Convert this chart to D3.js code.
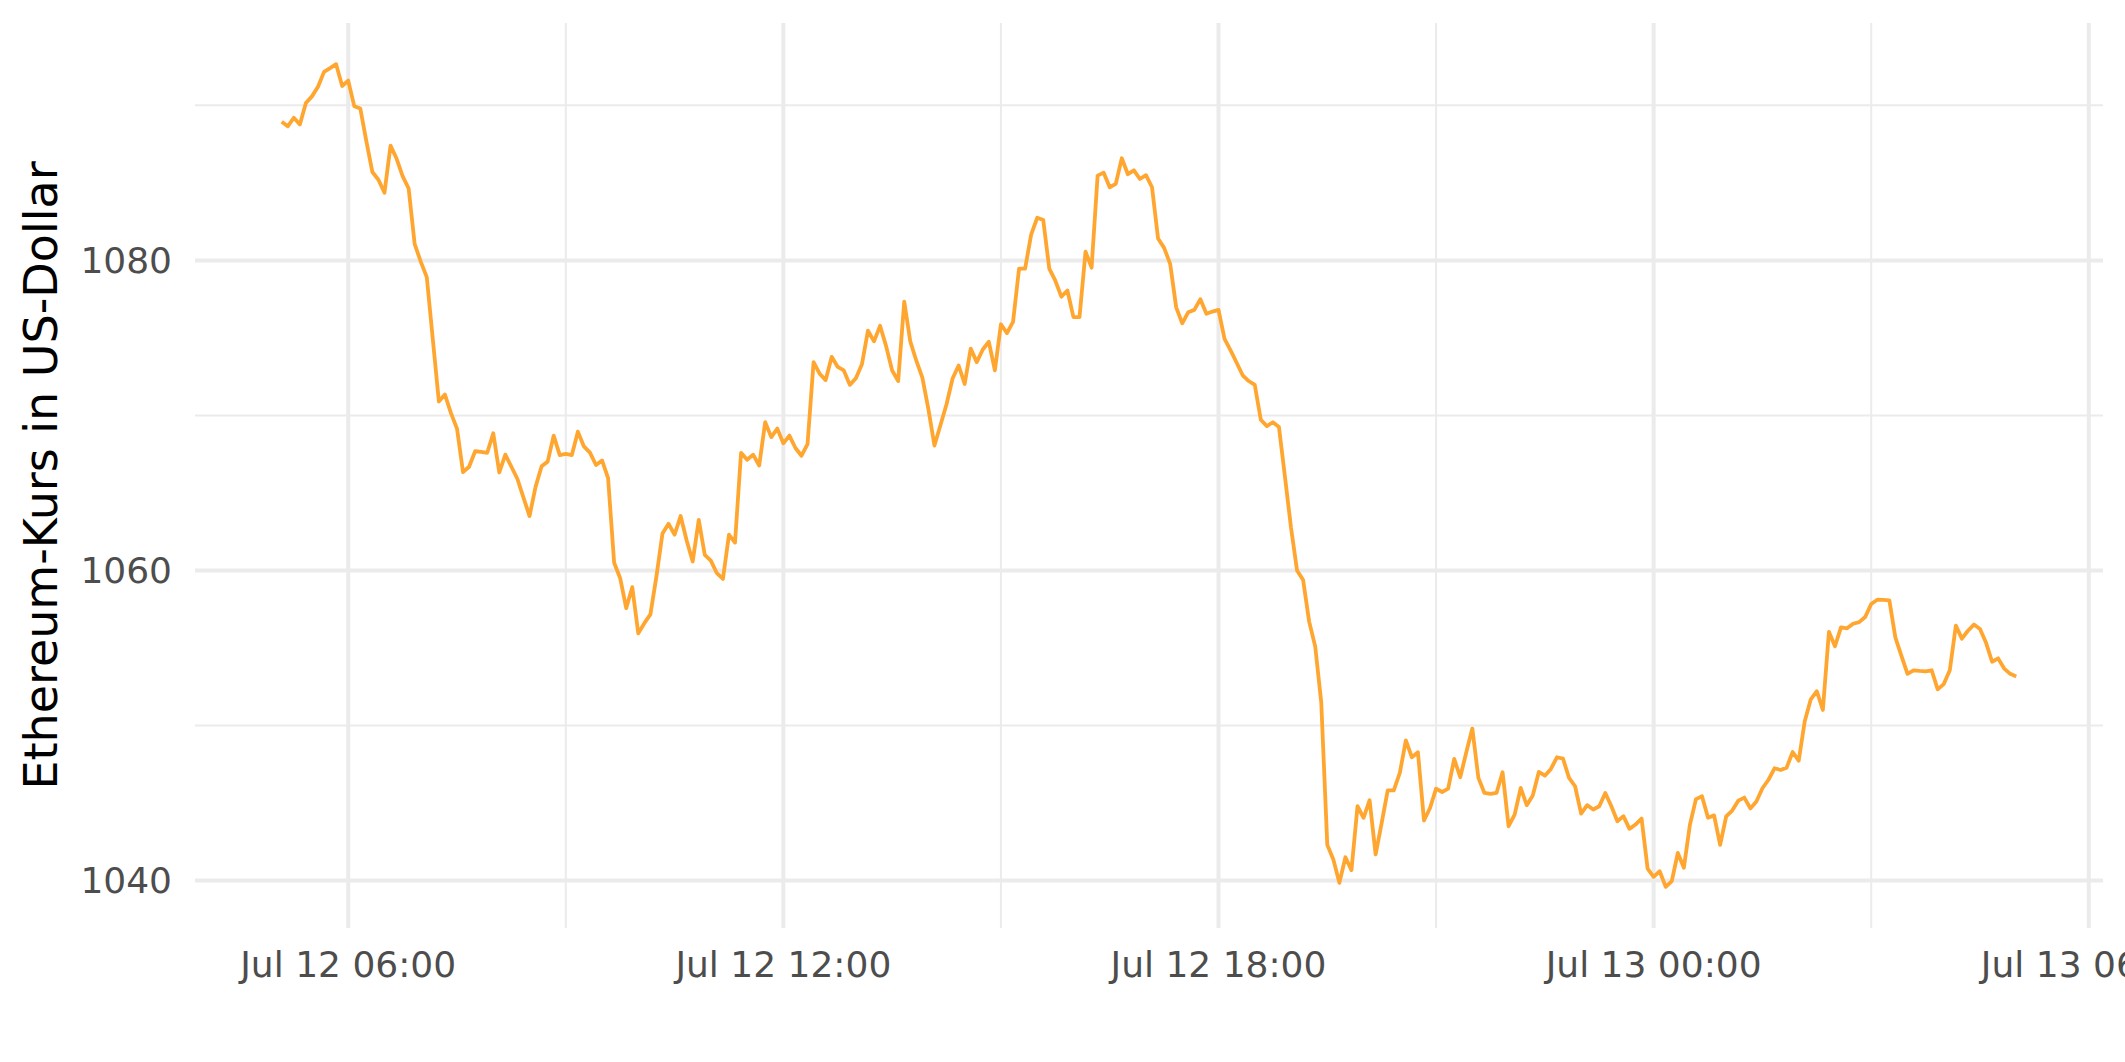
<!DOCTYPE html>
<html>
<head>
<meta charset="utf-8">
<script src="https://cdn.jsdelivr.net/npm/d3@7"></script>
<style>
  html, body { margin: 0; padding: 0; background: #ffffff; }
  svg { display: block; }
</style>
</head>
<body>
<svg id="chart" width="2125" height="1062"></svg>
<script>
// ---------------- data ----------------
const startTime = "2022-07-12T05:05:00Z";   // first observation (UTC)
const intervalMinutes = 5;                   // spacing of observations
const priceValues = [
  1088.95,1088.65,1089.2,1088.77,1090.15,1090.58,1091.2,1092.16,1092.4,1092.66,
  1091.25,1091.6,1089.95,1089.8,1087.7,1085.7,1085.2,1084.36,1087.4,1086.57,
  1085.44,1084.64,1081.05,1079.92,1078.92,1074.91,1070.9,1071.35,1070.15,1069.15,
  1066.34,1066.69,1067.69,1067.65,1067.59,1068.85,1066.32,1067.47,1066.69,1065.9,
  1064.7,1063.51,1065.39,1066.72,1067.02,1068.7,1067.44,1067.52,1067.44,1068.95,
  1068.0,1067.6,1066.8,1067.1,1065.96,1060.5,1059.5,1057.57,1058.92,1055.94,
  1056.6,1057.17,1059.62,1062.38,1063.01,1062.31,1063.51,1061.93,1060.58,1063.26,
  1061.0,1060.63,1059.82,1059.45,1062.31,1061.8,1067.59,1067.14,1067.47,1066.77,
  1069.57,1068.6,1069.15,1068.2,1068.7,1067.9,1067.4,1068.15,1073.44,1072.69,
  1072.28,1073.78,1073.13,1072.9,1071.97,1072.4,1073.3,1075.47,1074.78,1075.78,
  1074.47,1072.9,1072.22,1077.34,1074.78,1073.53,1072.44,1070.41,1068.06,1069.38,
  1070.72,1072.38,1073.22,1072.03,1074.31,1073.44,1074.25,1074.75,1072.91,1075.88,
  1075.31,1076.03,1079.47,1079.47,1081.66,1082.75,1082.6,1079.47,1078.69,1077.66,
  1078.06,1076.34,1076.34,1080.56,1079.53,1085.47,1085.66,1084.72,1084.94,1086.59,
  1085.56,1085.81,1085.25,1085.5,1084.72,1081.41,1080.81,1079.78,1076.97,1075.94,
  1076.66,1076.81,1077.5,1076.56,1076.7,1076.81,1074.94,1074.2,1073.4,1072.59,
  1072.22,1071.97,1069.72,1069.31,1069.56,1069.25,1066.03,1062.75,1060.0,1059.38,
  1056.7,1055.1,1051.5,1042.3,1041.35,1039.85,1041.5,1040.67,1044.79,1044.04,
  1045.18,1041.68,1043.72,1045.82,1045.82,1046.94,1049.04,1047.95,1048.27,1043.87,
  1044.68,1045.93,1045.71,1045.93,1047.84,1046.66,1048.27,1049.8,1046.62,1045.65,
  1045.59,1045.65,1046.98,1043.5,1044.25,1045.97,1044.86,1045.48,1047.0,1046.76,
  1047.2,1047.95,1047.86,1046.62,1046.08,1044.32,1044.86,1044.58,1044.79,1045.65,
  1044.79,1043.82,1044.15,1043.33,1043.61,1044.0,1040.77,1040.24,1040.6,1039.59,
  1039.96,1041.78,1040.82,1043.6,1045.25,1045.43,1044.05,1044.2,1042.3,1044.13,
  1044.51,1045.15,1045.35,1044.65,1045.1,1045.95,1046.5,1047.24,1047.13,1047.28,
  1048.29,1047.73,1050.27,1051.69,1052.21,1051.0,1056.04,1055.11,1056.33,1056.27,
  1056.56,1056.67,1057.0,1057.84,1058.11,1058.1,1058.07,1055.67,1054.49,1053.33,
  1053.56,1053.52,1053.49,1053.56,1052.33,1052.67,1053.56,1056.44,1055.6,1056.11,
  1056.51,1056.22,1055.33,1054.11,1054.33,1053.67,1053.33,1053.16
];
const yMajorTicks = [1040, 1060, 1080];
const yMinorTicks = [1050, 1070, 1090];
const xMajorTickTimes = ["2022-07-12T06:00:00Z","2022-07-12T12:00:00Z","2022-07-12T18:00:00Z","2022-07-13T00:00:00Z","2022-07-13T06:00:00Z"];
const xMinorTickTimes = ["2022-07-12T09:00:00Z","2022-07-12T15:00:00Z","2022-07-12T21:00:00Z","2022-07-13T03:00:00Z"];
const yAxisTitle = "Ethereum-Kurs in US-Dollar";

// ---------------- layout ----------------
const panel = { left: 195, right: 2103, top: 23, bottom: 928 };
const lineColor = "#FFA630";
const gridColor = "#EBEBEB";

const t0 = new Date(startTime).getTime();
const data = priceValues.map((v, i) => ({ t: new Date(t0 + i * intervalMinutes * 60000), v }));

const svg = d3.select("#chart");

// ggplot-like 5% expansion
const tExt = d3.extent(data, d => d.t.getTime());
const tPad = (tExt[1] - tExt[0]) * 0.05;
const vExt = d3.extent(data, d => d.v);
const vPad = (vExt[1] - vExt[0]) * 0.05;

const x = d3.scaleUtc()
  .domain([new Date(tExt[0] - tPad), new Date(tExt[1] + tPad)])
  .range([panel.left, panel.right]);
const y = d3.scaleLinear()
  .domain([vExt[0] - vPad, vExt[1] + vPad])
  .range([panel.bottom, panel.top]);

// grid
const grid = svg.append("g");
grid.selectAll("line.ymin").data(yMinorTicks).join("line")
  .attr("x1", panel.left).attr("x2", panel.right)
  .attr("y1", d => y(d)).attr("y2", d => y(d))
  .attr("stroke", gridColor).attr("stroke-width", 2);
grid.selectAll("line.xmin").data(xMinorTickTimes).join("line")
  .attr("y1", panel.top).attr("y2", panel.bottom)
  .attr("x1", d => x(new Date(d))).attr("x2", d => x(new Date(d)))
  .attr("stroke", gridColor).attr("stroke-width", 2);
grid.selectAll("line.ymaj").data(yMajorTicks).join("line")
  .attr("x1", panel.left).attr("x2", panel.right)
  .attr("y1", d => y(d)).attr("y2", d => y(d))
  .attr("stroke", gridColor).attr("stroke-width", 4);
grid.selectAll("line.xmaj").data(xMajorTickTimes).join("line")
  .attr("y1", panel.top).attr("y2", panel.bottom)
  .attr("x1", d => x(new Date(d))).attr("x2", d => x(new Date(d)))
  .attr("stroke", gridColor).attr("stroke-width", 4);

// line
const line = d3.line().x(d => x(d.t)).y(d => y(d.v));
svg.append("path")
  .datum(data)
  .attr("d", line)
  .attr("fill", "none")
  .attr("stroke", lineColor)
  .attr("stroke-width", 3.8)
  .attr("stroke-linejoin", "round")
  .attr("stroke-linecap", "butt");

// y tick labels
const fmtX = d3.utcFormat("%b %d %H:%M");
svg.append("g").selectAll("text").data(yMajorTicks).join("text")
  .attr("x", 172).attr("y", d => y(d)).attr("dy", "0.36em")
  .attr("text-anchor", "end")
  .attr("font-family", "DejaVu Sans")
  .attr("font-size", 36)
  .attr("fill", "#4D4D4D")
  .text(d => d);

// x tick labels
svg.append("g").selectAll("text").data(xMajorTickTimes).join("text")
  .attr("x", d => x(new Date(d))).attr("y", 977)
  .attr("text-anchor", "middle")
  .attr("font-family", "DejaVu Sans")
  .attr("font-size", 36)
  .attr("fill", "#4D4D4D")
  .text(d => fmtX(new Date(d)));

// y axis title
const cy = (panel.top + panel.bottom) / 2;
svg.append("text")
  .attr("transform", `translate(57,${cy}) rotate(-90)`)
  .attr("text-anchor", "middle")
  .attr("font-family", "DejaVu Sans")
  .attr("font-size", 46)
  .attr("fill", "#000000")
  .text(yAxisTitle);
</script>
</body>
</html>
